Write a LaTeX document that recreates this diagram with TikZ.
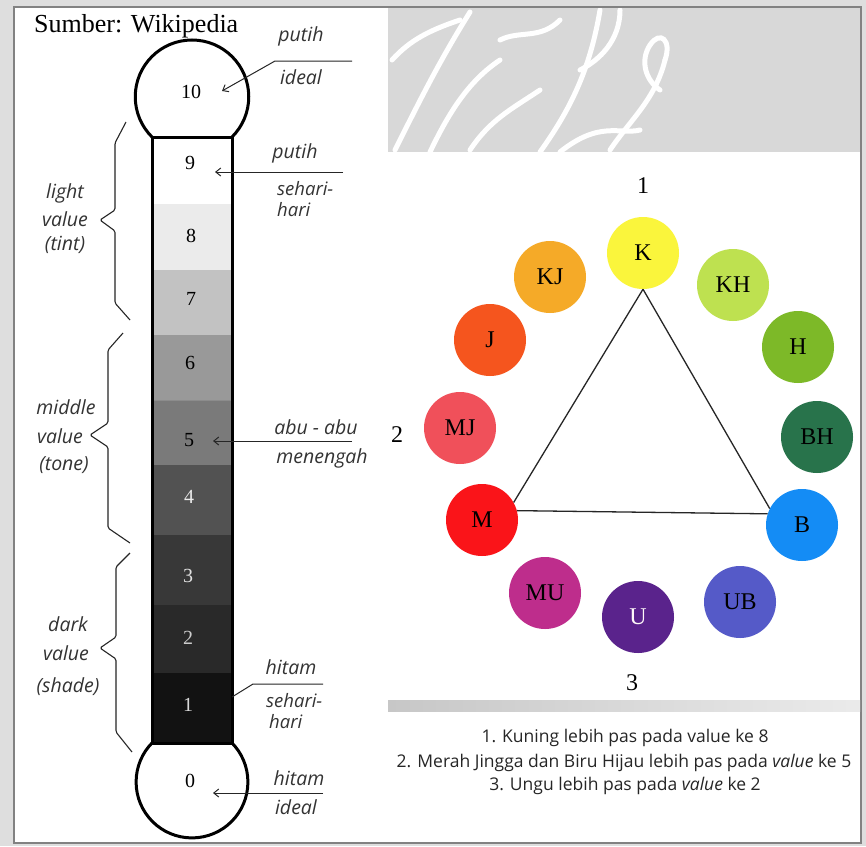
\documentclass[tikz,border=0pt]{standalone}
\usepackage{fontspec}
\setmainfont{Liberation Serif}
\newfontfamily\lblfont{Open Sans}
\usetikzlibrary{arrows.meta}
\definecolor{cK}{RGB}{250,245,60}
\definecolor{cKJ}{RGB}{245,170,40}
\definecolor{cKH}{RGB}{190,225,80}
\definecolor{cJ}{RGB}{245,85,30}
\definecolor{cH}{RGB}{125,185,40}
\definecolor{cMJ}{RGB}{240,80,90}
\definecolor{cBH}{RGB}{40,115,75}
\definecolor{cM}{RGB}{250,20,25}
\definecolor{cB}{RGB}{20,140,245}
\definecolor{cMU}{RGB}{190,45,140}
\definecolor{cU}{RGB}{90,35,140}
\definecolor{cUB}{RGB}{85,90,200}
\definecolor{pagegray}{RGB}{222,222,222}
\definecolor{framegray}{RGB}{130,130,130}
\definecolor{wmgray}{RGB}{216,216,216}
\begin{document}
\begin{tikzpicture}[x=1pt,y=-1pt,
  lbl/.style={font=\lblfont\itshape\fontsize{19.5}{21}\selectfont, text=black!80, inner sep=0},
  lbltwo/.style={font=\lblfont\itshape\fontsize{18.5}{21}\selectfont, text=black!80, inner sep=0, align=left, anchor=west},
  num/.style={font=\fontsize{20}{21}\selectfont, inner sep=0},
  bignum/.style={font=\fontsize{24}{26}\selectfont, inner sep=0},
  cw/.style={circle, minimum size=72pt, inner sep=0, font=\fontsize{24}{26}\selectfont},
  ptr/.style={line width=1pt, black!85, -{Straight Barb[length=5pt,width=8pt]}},
  leader/.style={line width=1pt, black!85},
  bracel/.style={line width=1.1pt, rounded corners=1.5pt, black!85},
  bulb/.style={line width=3pt, fill=white},
  capt/.style={font=\lblfont\fontsize{17.5}{19}\selectfont, text=black!85, inner sep=0},
  tri/.style={line width=1.3pt, black!85},
  wm/.style={white, line width=5pt, line cap=round}]
% page and frame
\fill[pagegray] (0,0) rectangle (866,846);
\useasboundingbox (0,0) rectangle (866,846);
\draw[framegray, line width=2pt, fill=white] (14,7) rectangle (861,843);
% watermark area top right
\fill[wmgray] (388,8) rectangle (860,152);
\begin{scope}
  \clip (388,8) rectangle (860,152);
  \draw[wm] (392,60) .. controls (410,40) and (430,30) .. (460,20);
  \draw[wm] (395,150) .. controls (420,100) and (440,60) .. (470,12);
  \draw[wm] (430,152) .. controls (450,110) and (470,80) .. (500,60);
  \draw[wm] (470,150) .. controls (490,120) and (510,110) .. (540,90);
  \draw[wm] (500,40) .. controls (520,30) and (540,40) .. (560,20);
  \draw[wm] (540,152) .. controls (570,110) and (590,70) .. (600,10);
  \draw[wm] (620,10) .. controls (620,40) and (600,60) .. (580,70);
  \draw[wm] (610,150) .. controls (630,120) and (655,100) .. (665,60);
  \draw[wm] (665,60) .. controls (672,40) and (660,30) .. (650,45);
  \draw[wm] (650,45) .. controls (640,60) and (645,80) .. (660,90);
  \draw[wm] (560,152) .. controls (600,120) and (620,135) .. (640,130);
\end{scope}
% gray band
\shade[left color=black!22, right color=black!8] (388,700) rectangle (860,711);
% source
\node[font=\fontsize{26}{28}\selectfont, anchor=base west, inner sep=0] (src) at (34,32) {Sumber: Wikipedia};
% thermometer
\draw[bulb] (192,96.75) circle[radius=56.75];
\draw[bulb] (192,782) circle[radius=55.9];
\fill[white]   (152,137) rectangle (232,204);
\fill[black!8] (152,204) rectangle (232,270);
\fill[black!24] (152,270) rectangle (232,335);
\fill[black!40] (152,335) rectangle (232,400);
\fill[black!52] (152,400) rectangle (232,465);
\fill[black!68] (152,465) rectangle (232,535);
\fill[black!78] (152,535) rectangle (232,605);
\fill[black!84] (152,605) rectangle (232,673);
\fill[black!93] (152,673) rectangle (232,743);
\draw[black!45, line width=0.6pt] (152,400) -- (232,400);
\draw[line width=3pt] (152,137) rectangle (232,743);
\node[num] (n10) at (191,92) {10};
\node[num] (n9) at (190,163) {9};
\node[num] (n8) at (191,236) {8};
\node[num] (n7) at (191,299) {7};
\node[num] (n6) at (190,363) {6};
\node[num] (n5) at (189,440) {5};
\node[num, text=black!8] (n4) at (189,497) {4};
\node[num, text=black!12] (n3) at (188,576) {3};
\node[num, text=black!20] (n2) at (188,638) {2};
\node[num, text=black!15] (n1) at (188,705) {1};
\node[num] (n0) at (190,781) {0};
% right labels
\node[lbl] (l1a) at (301,36) {putih};
\node[lbl] (l1b) at (301,77) {ideal};
\node[lbl] (l2a) at (295,153) {putih};
\node[lbltwo] (l2b) at (277,199) {sehari-\\hari};
\node[lbl] (l3a) at (316,427) {abu - abu};
\node[lbl] (l3b) at (322,458) {menengah};
\node[lbl] (l4a) at (291,667) {hitam};
\node[lbltwo] (l4b) at (266,711) {sehari-\\\hspace*{3pt}hari};
\node[lbl] (l5a) at (299,778) {hitam};
\node[lbl] (l5b) at (296,807) {ideal};
% pointers
\coordinate (p1s) at (352,61); \coordinate (p1k) at (275,61); \coordinate (p1e) at (222,91);
\coordinate (p2s) at (343,172); \coordinate (p2e) at (215,172);
\coordinate (p3s) at (352,441); \coordinate (p3e) at (213,441);
\coordinate (p4s) at (323,684); \coordinate (p4k) at (253,684); \coordinate (p4e) at (232,697);
\coordinate (p5s) at (323,793); \coordinate (p5e) at (213,793);
\draw[ptr] (p1s) -- (p1k) -- (p1e);
\draw[ptr] (p2s) -- (p2e);
\draw[ptr] (p3s) -- (p3e);
\draw[leader] (p4s) -- (p4k) -- (p4e);
\draw[ptr] (p5s) -- (p5e);
% left labels
\node[lbl] (t1) at (65,193) {light};
\node[lbl] (t2) at (65,219) {value};
\node[lbl] (t3) at (65,245) {(tint)};
\node[lbl] (m1) at (66,407) {middle};
\node[lbl] (m2) at (60,436) {value};
\node[lbl] (m3) at (64,465) {(tone)};
\node[lbl] (d1) at (68,624) {dark};
\node[lbl] (d2) at (66,653) {value};
\node[lbl] (d3) at (68,687) {(shade)};
% braces
\draw[bracel] (126,122) -- (115,143) -- (115,210) -- (100,220) -- (115,231) -- (115,303) -- (130,320);
\draw[bracel] (123,333) -- (108,350) -- (108,423) -- (90,435) -- (108,447) -- (108,528) -- (130,543);
\draw[bracel] (130,553) -- (116,567) -- (116,637) -- (100,648) -- (116,659) -- (116,732) -- (132,752);
% colour wheel
\node[cw, fill=cK] (K) at (643,253) {K};
\node[cw, fill=cKJ] (KJ) at (550,277) {KJ};
\node[cw, fill=cKH] (KH) at (733,285) {KH};
\node[cw, fill=cJ] (J) at (490,340) {J};
\node[cw, fill=cH] (H) at (798,347) {H};
\node[cw, fill=cMJ] (MJ) at (460,428) {MJ};
\node[cw, fill=cBH] (BH) at (817,437) {BH};
\node[cw, fill=cM] (M) at (482,520) {M};
\node[cw, fill=cB] (B) at (802,525) {B};
\node[cw, fill=cMU] (MU) at (545,593) {MU};
\node[cw, fill=cU, text=white!90!pink] (U) at (638,617) {U};
\node[cw, fill=cUB] (UB) at (740,602) {UB};
\draw[tri] (K.south) -- (M.29);
\draw[tri] (M.15) -- (B.162);
\draw[tri] (B.153) -- (K.south);
\node[bignum] (w1) at (643,186) {1};
\node[bignum] (w2) at (397,435) {2};
\node[bignum] (w3) at (632,683) {3};
% captions
\node[capt] (c1) at (625,738) {1. Kuning lebih pas pada value ke 8};
\node[capt] (c2) at (624,763) {2. Merah Jingga dan Biru Hijau lebih pas pada \textit{value} ke 5};
\node[capt] (c3) at (625,786) {3. Ungu lebih pas pada \textit{value} ke 2};
\end{tikzpicture}
\end{document}
